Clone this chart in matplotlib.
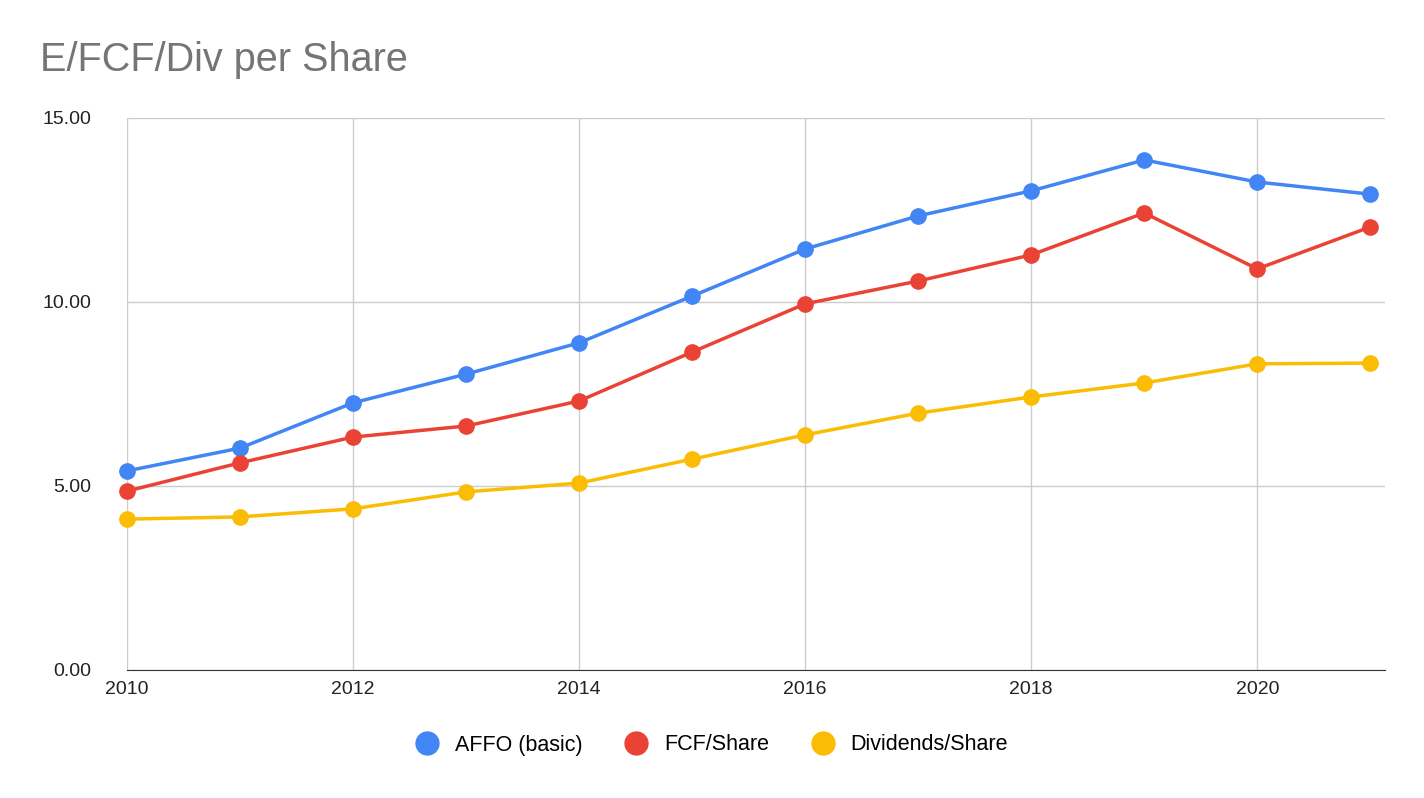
import matplotlib.pyplot as plt

years = list(range(2010, 2022))
affo = [5.41, 6.03, 7.26, 8.04, 8.89, 10.16, 11.44, 12.34, 13.02, 13.86, 13.26, 12.93]
fcf = [4.86, 5.63, 6.33, 6.63, 7.31, 8.64, 9.95, 10.57, 11.28, 12.42, 10.90, 12.04]
divs = [4.10, 4.16, 4.38, 4.84, 5.08, 5.73, 6.39, 6.98, 7.42, 7.80, 8.32, 8.34]

plt.rcParams['font.family'] = ['Liberation Sans', 'DejaVu Sans']
fig = plt.figure(figsize=(14.24, 7.98), dpi=100)
ax = fig.add_axes([127/1424, 1-670/798, (1385-127)/1424, (670-118)/798])

series = [("AFFO (basic)", affo, "#4285F4"),
          ("FCF/Share", fcf, "#EA4335"),
          ("Dividends/Share", divs, "#FBBC04")]
for name, vals, col in series:
    ax.plot(years, vals, color=col, lw=2.5, marker="o", ms=11, label=name, clip_on=False, zorder=3)

ax.set_xlim(2010, 2021.13)
ax.set_ylim(0, 15)
ax.set_yticks([0, 5, 10, 15])
ax.set_yticklabels(["0.00", "5.00", "10.00", "15.00"])
ax.set_xticks(range(2010, 2022, 2))
ax.grid(True, color="#cccccc", lw=1)
ax.set_axisbelow(True)
for s in ["top", "right", "left"]:
    ax.spines[s].set_visible(False)
ax.spines["bottom"].set_color("#333333")
ax.tick_params(length=0, labelsize=14, colors="#222222")
ax.tick_params(axis="x", pad=8)
ax.tick_params(axis="y", pad=26)

fig.text(40/1424, 1-60/798, "E/FCF/Div per Share", fontsize=28.5, color="#757575", va="center")
fig.legend(loc="center", bbox_to_anchor=(0.5, 1-745/798), ncol=3, frameon=False,
           fontsize=15.5, handlelength=1.0, columnspacing=2, markerscale=1.5)
leg = fig.legends[0]
for h in leg.legend_handles:
    h.set_linestyle("none")

fig.savefig("out.png", dpi=100)
